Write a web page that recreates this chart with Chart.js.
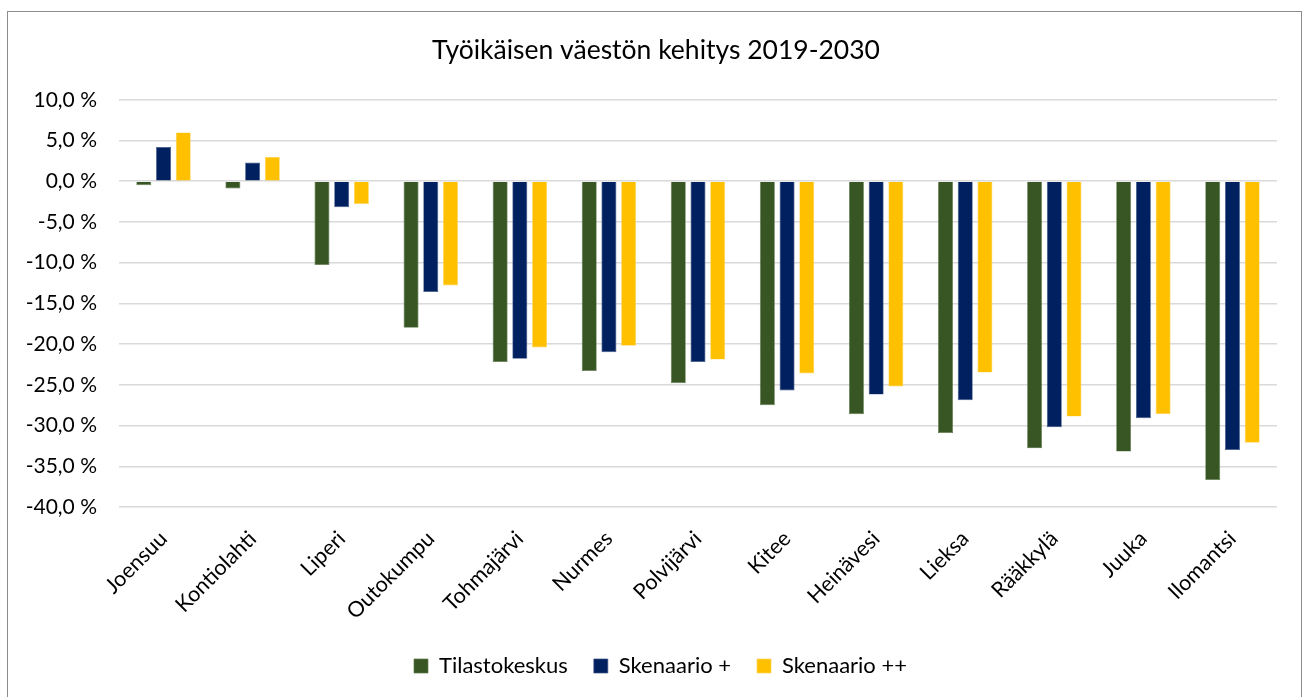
<!DOCTYPE html>
<html><head><meta charset="utf-8">
<script src="https://cdn.jsdelivr.net/npm/chart.js@4/dist/chart.umd.min.js"></script>
<style>
html,body{margin:0;padding:0;background:#fff;overflow:hidden;}
#wrap{position:absolute;left:0;top:0;width:1306px;height:710px;}
#frame{position:absolute;left:7px;top:11px;width:1293px;height:700px;border:1px solid #8c8c8c;pointer-events:none;}
</style></head>
<body>
<div id="wrap"><canvas id="c" width="1306" height="710"></canvas></div>
<div id="frame"></div>
<script>
const categories = ["Joensuu","Kontiolahti","Liperi","Outokumpu","Tohmajärvi","Nurmes","Polvijärvi","Kitee","Heinävesi","Lieksa","Rääkkylä","Juuka","Ilomantsi"];
const tilastokeskus = [-0.5,-0.9,-10.3,-18.0,-22.2,-23.3,-24.8,-27.5,-28.6,-30.9,-32.8,-33.2,-36.7];
const skenaarioPlus = [4.2,2.3,-3.2,-13.6,-21.8,-21.0,-22.2,-25.7,-26.2,-26.9,-30.2,-29.1,-33.0];
const skenaarioPlusPlus = [6.0,3.0,-2.8,-12.8,-20.4,-20.2,-21.9,-23.6,-25.2,-23.5,-28.9,-28.6,-32.1];
const seriesNames = ["Tilastokeskus","Skenaario +","Skenaario ++"];
const yTicks = {min:-40, max:10, step:5};
const FONT = "Lato, 'Open Sans', sans-serif";
const fmt = v => v.toFixed(1).replace('.', ',') + ' %';

const shiftBlocks = {
  id: 'shiftBlocks',
  afterLayout(chart) {
    if (chart.legend) { chart.legend.left += 22; chart.legend.right += 22; }
    if (chart.titleBlock) { chart.titleBlock.left += 17.5; chart.titleBlock.right += 17.5; }
  }
};

new Chart(document.getElementById('c'), {
  type: 'bar',
  data: {
    labels: categories,
    datasets: [
      {label: seriesNames[0], data: tilastokeskus, backgroundColor: '#375623', borderColor:'#5f7a4c', borderWidth:0.7},
      {label: seriesNames[1], data: skenaarioPlus, backgroundColor: '#002060', borderColor:'#3d5585', borderWidth:0.7},
      {label: seriesNames[2], data: skenaarioPlusPlus, backgroundColor: '#ffc000', borderColor:'#ffd45a', borderWidth:0.7}
    ]
  },
  plugins: [shiftBlocks],
  options: {
    responsive: false,
    animation: false,
    devicePixelRatio: 1,
    layout: {padding: {left: 0, right: 29, top: 0, bottom: 23}},
    datasets: {bar: {categoryPercentage: 0.664, barPercentage: 0.76}},
    plugins: {
      title: {display: true, text: 'Työikäisen väestön kehitys 2019-2030', color:'#000',
              font: {family: FONT, size: 26.5, weight: 'normal'}, padding: {top: 35, bottom: 33}},
      legend: {position: 'bottom', labels: {boxWidth: 14, boxHeight: 14, color:'#000', padding: 26,
              font: {family: FONT, size: 22}}},
      tooltip: {enabled: false}
    },
    scales: {
      x: {
        grid: {display: false, drawTicks:false},
        border: {display: false},
        afterFit: a => { a.height = 122; },
        ticks: {color:'#000', font:{family: FONT, size: 21.5}, minRotation: 45, maxRotation: 45, padding: 19}
      },
      y: {
        min: yTicks.min, max: yTicks.max,
        grid: {color: '#d9d9d9', lineWidth: 1.5, drawTicks: false},
        border: {display: false},
        afterFit: a => { a.width = 119; },
        ticks: {stepSize: yTicks.step, color:'#000', padding: 22, font:{family: FONT, size: 21}, callback: v => fmt(v)}
      }
    }
  }
});
</script>
</body></html>
